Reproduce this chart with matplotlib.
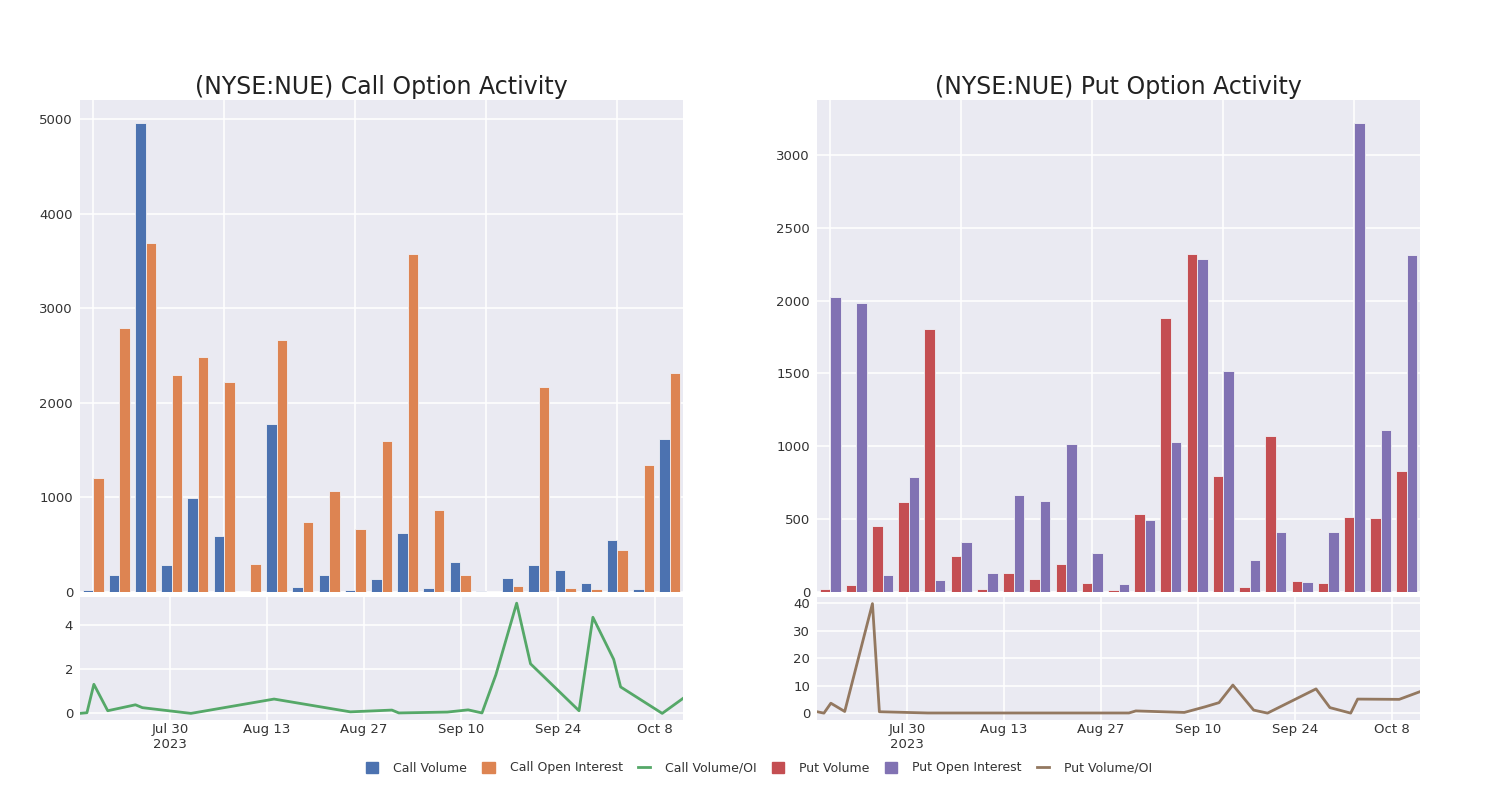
import matplotlib.pyplot as plt
from matplotlib.lines import Line2D
from matplotlib.patches import Patch
import numpy as np
import datetime as dt

# trading days shown (23 groups)
dates = ['2023-07-17', '2023-07-18', '2023-07-19', '2023-07-21', '2023-07-25', '2023-07-26',
         '2023-08-02', '2023-08-14', '2023-08-25', '2023-08-31', '2023-09-01', '2023-09-08',
         '2023-09-11', '2023-09-13', '2023-09-15', '2023-09-18', '2023-09-20', '2023-09-27',
         '2023-09-29', '2023-10-02', '2023-10-03', '2023-10-09', '2023-10-12']

call_volume = [21, 177, 4954, 287, 999, 595, 0, 1778, 53, 177, 18, 135,
               620, 39, 312, 14, 149, 283, 230, 92, 549, 32, 1622]
call_oi = [1207, 2787, 3686, 2295, 2489, 2224, 301, 2666, 737, 1066, 662, 1600,
           3573, 864, 177, 5, 60, 2167, 46, 28, 443, 1338, 2319]
call_ratio = [0.0, 0.03, 1.32, 0.12, 0.39, 0.26, 0.0, 0.65, 0.07, 0.15, 0.02, 0.06,
              0.16, 0.02, 1.75, 5.0, 2.25, 0.12, 4.36, 2.45, 1.2, 0.0, 0.68]

put_volume = [20, 47, 451, 617, 1804, 244, 23, 129, 92, 189, 60, 12,
              534, 1880, 2318, 796, 32, 1068, 74, 64, 513, 511, 831]
put_oi = [2021, 1986, 115, 787, 83, 341, 129, 665, 626, 1013, 267, 55,
          495, 1031, 2288, 1519, 223, 410, 69, 414, 3215, 1112, 2313]
put_ratio = [0.5, 0.0, 3.6, 0.6, 39.8, 0.5, 0.05, 0.05, 0.05, 0.05, 0.8, 0.25,
             2.3, 3.8, 10.2, 1.1, 0.0, 8.8, 2.0, 0.0, 5.1, 5.0, 7.8]

days = [dt.datetime.strptime(d, '%Y-%m-%d') for d in dates]

BG = '#EAEAF2'
TXT = '#333333'
blue, orange, green = '#4C72B0', '#DD8452', '#55A868'
red, purple, brown = '#C44E52', '#8172B3', '#937860'

plt.rcParams['font.family'] = ['DejaVu Sans']
fig = plt.figure(figsize=(15, 8), dpi=100)
W, H = 1500, 800

def box(x0, y0, x1, y1):
    return [x0 / W, 1 - y1 / H, (x1 - x0) / W, (y1 - y0) / H]

def style(ax):
    ax.set_facecolor(BG)
    for s in ax.spines.values():
        s.set_visible(False)
    ax.grid(True, color='white', linewidth=1.1)
    ax.set_axisbelow(True)
    ax.tick_params(length=0, labelsize=9.5, colors=TXT, pad=5)

def panel(x0, x1, v1, v2, ratio, c1, c2, c3, title, ytop, rlim):
    top = fig.add_axes(box(x0, 100, x1, 592))
    style(top)
    idx = np.arange(len(v1))
    w = 0.4
    top.bar(idx - w / 2, v1, w, color=c1, edgecolor='#f0f0f5', linewidth=0.6)
    top.bar(idx + w / 2, v2, w, color=c2, edgecolor='#f0f0f5', linewidth=0.6)
    top.set_xlim(-0.5, len(v1) - 0.5)
    top.set_ylim(0, ytop)
    top.set_xticks([0, 5, 10, 15, 20])
    top.set_xticklabels([])
    top.set_title(title, fontsize=17, color='#222222', pad=4)

    bot = fig.add_axes(box(x0, 597, x1, 720))
    style(bot)
    bot.plot(days, ratio, color=c3, linewidth=2)
    bot.set_xlim(days[0], days[-1])
    bot.set_ylim(*rlim)
    ticks = [dt.datetime(2023, 7, 30) + dt.timedelta(days=14 * i) for i in range(6)]
    bot.set_xticks(ticks)
    labels = [t.strftime('%b %-d') for t in ticks]
    labels[0] = labels[0] + '\n2023'
    bot.set_xticklabels(labels)
    bot.tick_params(axis='x', pad=2)
    return top, bot

panel(80, 683, call_volume, call_oi, call_ratio, blue, orange, green,
      '(NYSE:NUE) Call Option Activity', 5202, (-0.3, 5.28))
pt, pb = panel(817, 1420, put_volume, put_oi, put_ratio, red, purple, brown,
               '(NYSE:NUE) Put Option Activity', 3376, (-2.5, 42.2))
pt.set_yticks([0, 500, 1000, 1500, 2000, 2500, 3000])
pb.set_yticks([0, 10, 20, 30, 40])

handles = [Patch(color=blue), Patch(color=orange), Line2D([], [], color=green, lw=2),
           Patch(color=red), Patch(color=purple), Line2D([], [], color=brown, lw=2)]
names = ['Call Volume', 'Call Open Interest', 'Call Volume/OI',
         'Put Volume', 'Put Open Interest', 'Put Volume/OI']
fig.legend(handles, names, loc='center', bbox_to_anchor=(0.506, 1 - 768 / H), ncol=6,
           frameon=False, fontsize=9, handlelength=1.0, handleheight=1.0,
           columnspacing=1.2, handletextpad=1.2, labelcolor=TXT)

fig.savefig('out.png', dpi=100, facecolor='white')
